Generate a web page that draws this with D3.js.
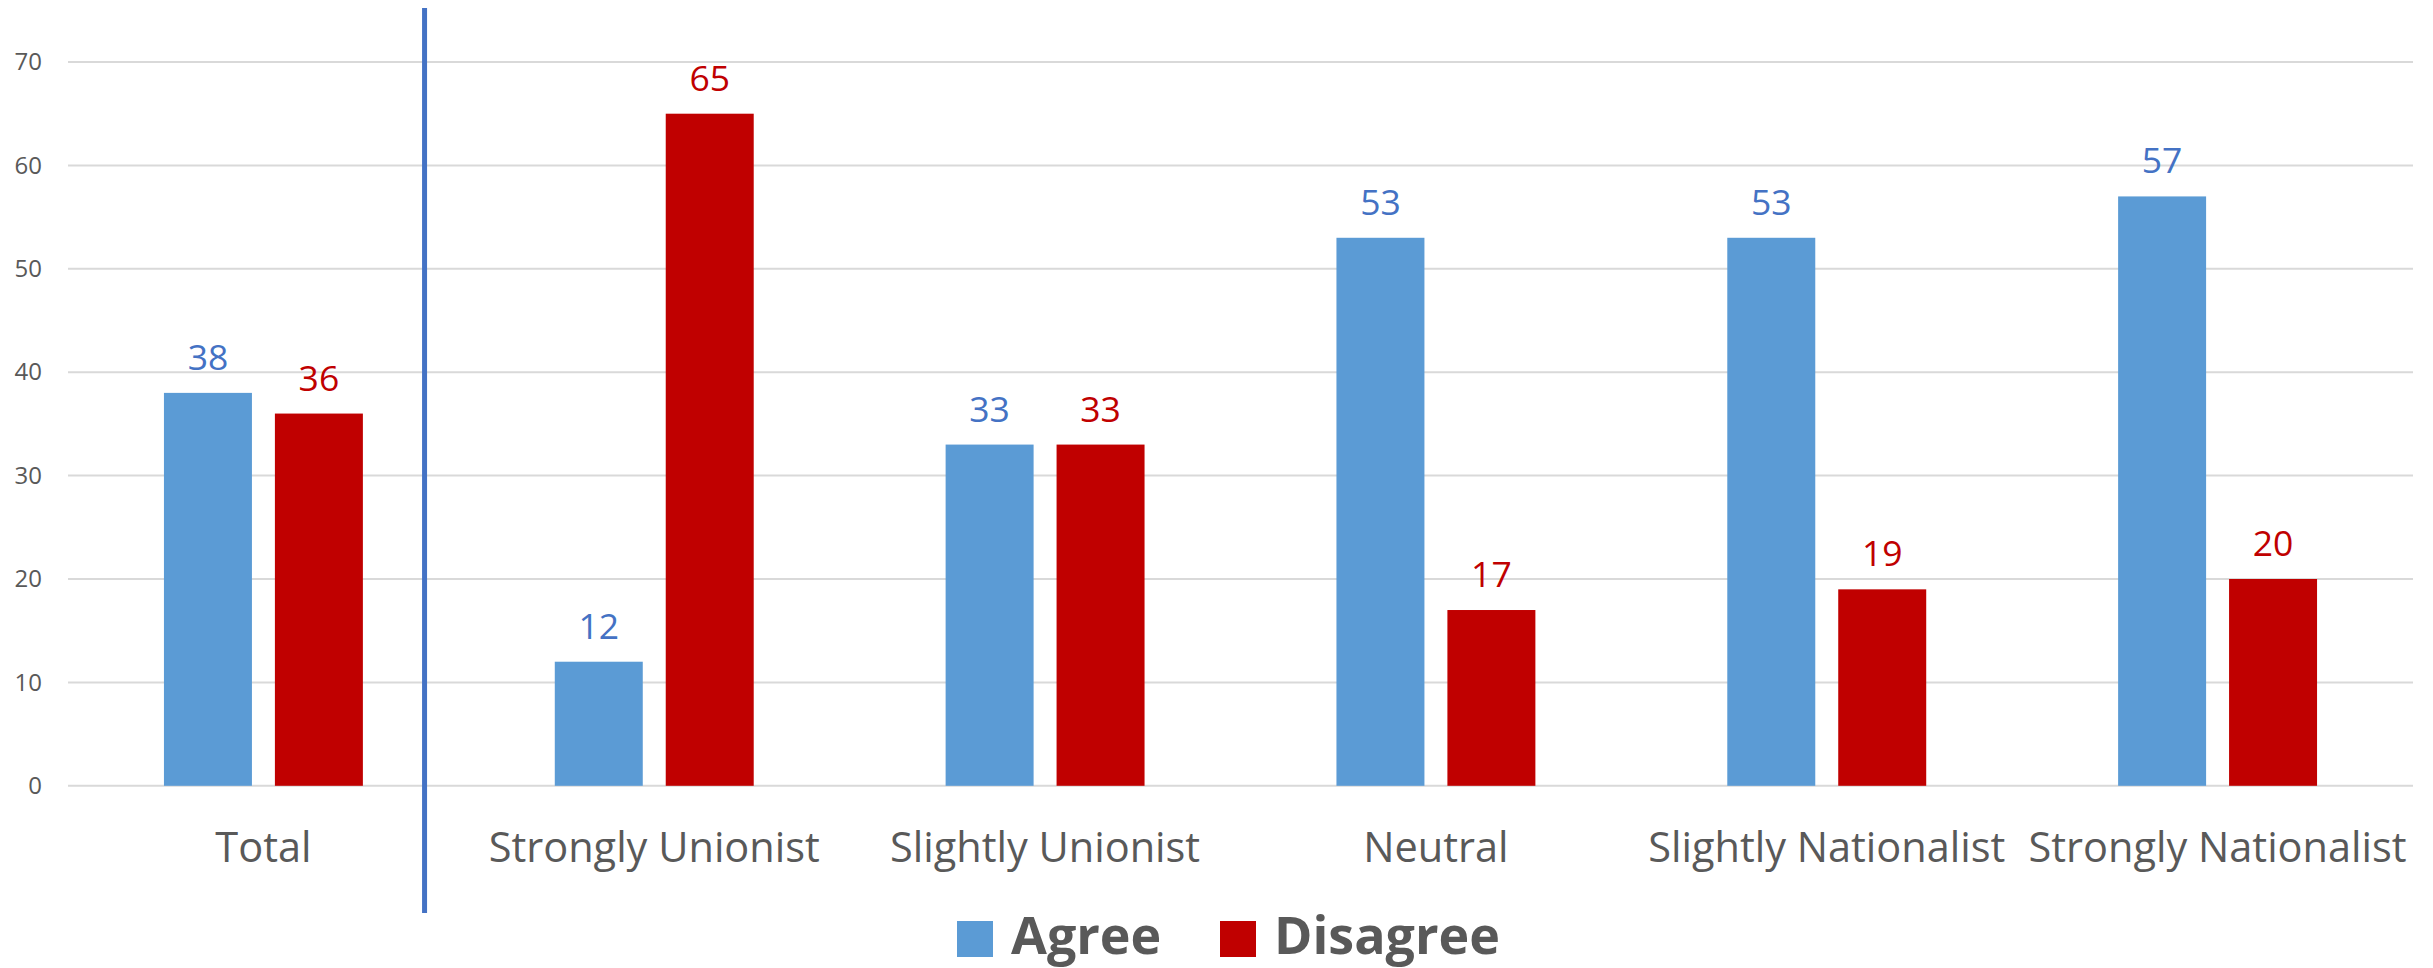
<!DOCTYPE html>
<html>
<head>
<meta charset="utf-8">
<script src="https://cdn.jsdelivr.net/npm/d3@7"></script>
<style>
  html, body { margin: 0; padding: 0; background: #fff; }
  svg { display: block; }
  text { font-family: "Open Sans", "Segoe UI", sans-serif; }
</style>
</head>
<body>
<svg id="chart" width="2433" height="968"></svg>
<script>
const categories = ["Total", "Strongly Unionist", "Slightly Unionist", "Neutral", "Slightly Nationalist", "Strongly Nationalist"];
const seriesNames = ["Agree", "Disagree"];
const agreeValues = [38, 12, 33, 53, 53, 57];
const disagreeValues = [36, 65, 33, 17, 19, 20];
const yTicks = [0, 10, 20, 30, 40, 50, 60, 70];

const barColors = { Agree: "#5B9BD5", Disagree: "#C00000" };
const labelColors = { Agree: "#4472C4", Disagree: "#C00000" };
const textGrey = "#595959";

const svg = d3.select("#chart");
const plot = { left: 68, right: 2413, top: 62, bottom: 785.8 };

const x = d3.scaleBand().domain(categories).range([plot.left, plot.right]).paddingInner(0).paddingOuter(0);
const bw = x.bandwidth();
const groupW = bw * 0.509;
const x1 = d3.scaleBand().domain(seriesNames)
  .range([bw / 2 - groupW / 2, bw / 2 + groupW / 2])
  .paddingInner(0.207).paddingOuter(0);
const y = d3.scaleLinear().domain([0, 70]).range([plot.bottom, plot.top]);

// gridlines
svg.append("g").selectAll("line").data(yTicks).join("line")
  .attr("x1", plot.left).attr("x2", plot.right)
  .attr("y1", d => y(d)).attr("y2", d => y(d))
  .attr("stroke", "#D9D9D9").attr("stroke-width", 2);

// y axis labels
const yAxis = d3.axisLeft(y).tickValues(yTicks).tickSize(0).tickPadding(0);
const yg = svg.append("g").attr("transform", `translate(${42},0)`).call(yAxis);
yg.select(".domain").remove();
yg.selectAll("text").attr("font-size", 24).attr("fill", textGrey)
  .attr("font-family", "'Open Sans', sans-serif");

const data = categories.map((c, i) => ({ cat: c, values: [
  { key: "Agree", value: agreeValues[i] },
  { key: "Disagree", value: disagreeValues[i] }
]}));

const groups = svg.append("g").selectAll("g").data(data).join("g")
  .attr("transform", d => `translate(${x(d.cat)},0)`);

groups.selectAll("rect").data(d => d.values).join("rect")
  .attr("x", d => x1(d.key)).attr("width", x1.bandwidth())
  .attr("y", d => y(d.value)).attr("height", d => y(0) - y(d.value))
  .attr("fill", d => barColors[d.key]);

groups.selectAll("text.val").data(d => d.values).join("text")
  .attr("class", "val")
  .attr("x", d => x1(d.key) + x1.bandwidth() / 2)
  .attr("y", d => y(d.value) - 23)
  .attr("text-anchor", "middle")
  .attr("font-size", 35.5)
  .attr("fill", d => labelColors[d.key])
  .text(d => d.value);

// x axis labels
const xAxis = d3.axisBottom(x).tickSize(0).tickPadding(0);
const xg = svg.append("g").attr("transform", `translate(0,${plot.bottom})`).call(xAxis);
xg.select(".domain").remove();
xg.selectAll("text").attr("font-size", 41.5).attr("fill", textGrey)
  .attr("font-family", "'Open Sans', sans-serif")
  .attr("dy", null).attr("y", 76);

// vertical divider line
const divX = x(categories[1]) - bw * 0.0877;
svg.append("line")
  .attr("x1", divX).attr("x2", divX)
  .attr("y1", 8).attr("y2", 913)
  .attr("stroke", "#4472C4").attr("stroke-width", 5);

// legend
const legend = svg.append("g");
const legendItems = [
  { key: "Agree", sx: 957, tx: 1011 },
  { key: "Disagree", sx: 1220, tx: 1274 }
];
legendItems.forEach(it => {
  legend.append("rect").attr("x", it.sx).attr("y", 921).attr("width", 36).attr("height", 36)
    .attr("fill", barColors[it.key]);
  legend.append("text").attr("x", it.tx).attr("y", 954)
    .attr("font-size", 52).attr("font-weight", "bold").attr("fill", textGrey)
    .text(it.key);
});
</script>
</body>
</html>
